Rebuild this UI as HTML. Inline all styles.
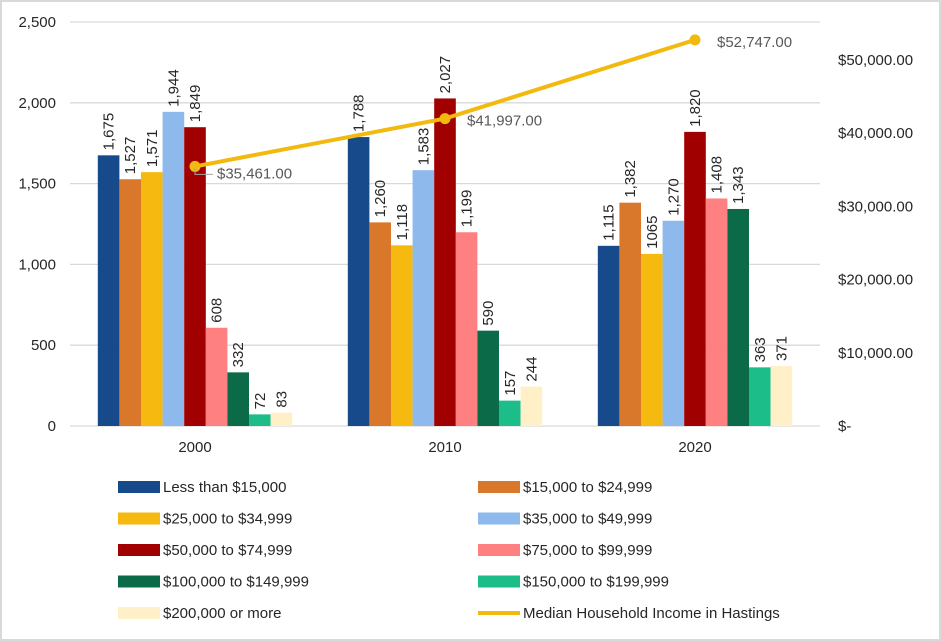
<!DOCTYPE html>
<html><head><meta charset="utf-8"><style>
body{margin:0;background:#fff}
svg{display:block;font-family:"Liberation Sans",sans-serif}
</style></head><body>
<svg id="c" width="941" height="641">
<rect x="1" y="1" width="939" height="639" fill="#fff" stroke="#d9d9d9" stroke-width="2"/>
<g id="grid"></g><g id="bars"></g><g id="line"></g><g id="axes"></g><g id="legend"></g>
</svg>
<script>
const years=["2000","2010","2020"];
const seriesNames=["Less than $15,000","$15,000 to $24,999","$25,000 to $34,999","$35,000 to $49,999","$50,000 to $74,999","$75,000 to $99,999","$100,000 to $149,999","$150,000 to $199,999","$200,000 or more"];
const colors=["#174A8B","#D9772A","#F5B90F","#8DB9EC","#A00000","#FF8080","#0B6B48","#1DBD8A","#FFF0C8"];
const s2000=[1675,1527,1571,1944,1849,608,332,72,83];
const s2010=[1788,1260,1118,1583,2027,1199,590,157,244];
const s2020=[1115,1382,1065,1270,1820,1408,1343,363,371];
const labels2020=["1,115","1,382","1065","1,270","1,820","1,408","1,343","363","371"];
const median=[35461,41997,52747];
const medianLabels=["$35,461.00","$41,997.00","$52,747.00"];
const leftTicks=[0,500,1000,1500,2000,2500];
const rightTicks=[0,10000,20000,30000,40000,50000];
const rightTickLabels=["$-","$10,000.00","$20,000.00","$30,000.00","$40,000.00","$50,000.00"];
const NS="http://www.w3.org/2000/svg";
const y0=426;
function yL(v){return y0-v*0.1616;}
function yR(v){return y0-v*0.00732;}
function xG(i){return 195+250*i;}
const bw=21.6;
function mk(tag,attrs,parent){const e=document.createElementNS(NS,tag);for(const k in attrs)e.setAttribute(k,attrs[k]);document.getElementById(parent).appendChild(e);return e;}
function fmt(v){return v.toLocaleString("en-US");}
leftTicks.forEach(t=>{
  const l=mk("line",{x1:70,x2:820,y1:yL(t),y2:yL(t),stroke:"#d9d9d9","stroke-width":1.3},"grid");
  
  
  const tx=mk("text",{x:56,y:yL(t)+5,"text-anchor":"end","font-size":15,fill:"#262626"},"axes");
  tx.textContent=fmt(t);
  
  
});
rightTicks.forEach((t,i)=>{
  const tx=mk("text",{x:838,y:yR(t)+5,"font-size":15,fill:"#262626"},"axes");
  tx.textContent=rightTickLabels[i];
  
  
});
const all=[s2000,s2010,s2020];
all.forEach((s,g)=>{
  const tx=mk("text",{x:xG(g),y:452,"text-anchor":"middle","font-size":15,fill:"#262626"},"axes");
  tx.textContent=years[g];
  
  
  s.forEach((v,k)=>{
    const x=xG(g)-bw*4.5+k*bw;
    const r=mk("rect",{x:x,y:yL(v),width:bw,height:yL(0)-yL(v),fill:colors[k]},"bars");
    
    
    const cx=x+bw/2+5, cy=yL(v)-5;
    const lb=mk("text",{x:cx,y:cy,transform:`rotate(-90 ${cx} ${cy})`,"font-size":15,fill:"#262626"},"bars");
    lb.textContent=g===2?labels2020[k]:fmt(v);
    
    
  });
});
const pts=median.map((v,i)=>[xG(i),yR(v)]);
const pl=mk("polyline",{points:pts.map(p=>p.join(",")).join(" "),fill:"none",stroke:"#F2B90F","stroke-width":4},"line");


pts.forEach((p,i)=>{
  const c=mk("circle",{cx:p[0],cy:p[1],r:5.5,fill:"#F2B90F"},"line");
  
  
  const tx=mk("text",{x:p[0]+(i===0?22:22),y:p[1]+(i===0?12:7),"font-size":15,fill:"#595959"},"line");
  tx.textContent=medianLabels[i];
  
  
});
mk("polyline",{points:`${pts[0][0]},${pts[0][1]+2} ${pts[0][0]},${pts[0][1]+8} ${pts[0][0]+18},${pts[0][1]+8}`,fill:"none",stroke:"#a6a6a6","stroke-width":1},"line");
const legItems=seriesNames.map((n,i)=>({n:n,c:colors[i],line:false}));
legItems.push({n:"Median Household Income in Hastings",c:"#F2B90F",line:true});
legItems.forEach((it,i)=>{
  const col=i%2, row=Math.floor(i/2);
  const x=col?478:118, y=487+row*31.5;
  const sw=it.line?mk("line",{x1:x,x2:x+42,y1:y,y2:y,stroke:it.c,"stroke-width":4},"legend"):mk("rect",{x:x,y:y-6,width:42,height:12,fill:it.c},"legend");
  
  
  const tx=mk("text",{x:x+45,y:y+5,"font-size":15,fill:"#262626"},"legend");
  tx.textContent=it.n;
  
  
});
</script>
</body></html>
